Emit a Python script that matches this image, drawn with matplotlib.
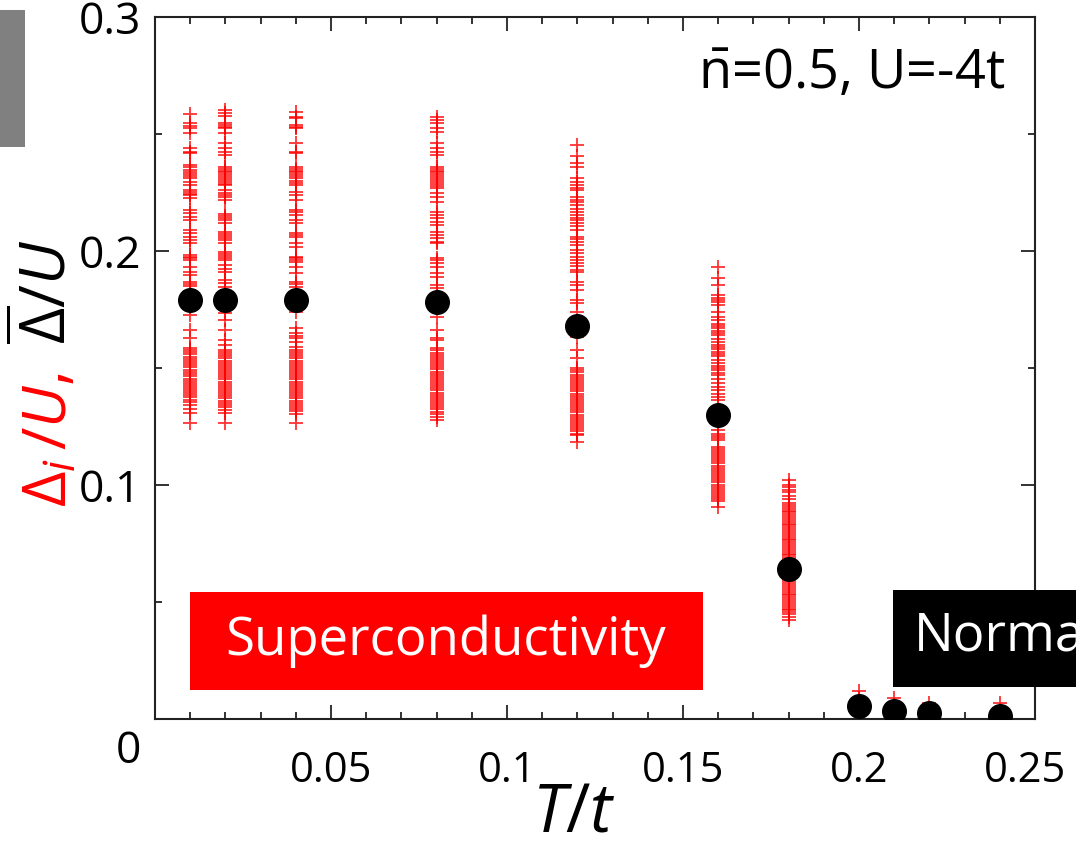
import matplotlib
matplotlib.use('Agg')
import matplotlib.pyplot as plt
import matplotlib.transforms as mtransforms
from matplotlib.patches import Rectangle

plt.rcParams['font.family'] = ['Open Sans', 'DejaVu Sans']
plt.rcParams['mathtext.fontset'] = 'custom'
plt.rcParams['mathtext.rm'] = 'Open Sans'
plt.rcParams['mathtext.it'] = 'Open Sans:italic'

# temperatures T/t and mean gap (black dots)
temps = [0.01, 0.02, 0.04, 0.08, 0.12, 0.16, 0.18, 0.20, 0.21, 0.22, 0.24]
gap_mean = [0.179, 0.179, 0.179, 0.178, 0.168, 0.130, 0.064, 0.0056, 0.0034, 0.0026, 0.0013]

# local gaps Delta_i/U (red crosses), read column by column
gap_001 = [0.2585, 0.2546, 0.2534, 0.2524, 0.2503, 0.2439, 0.2425, 0.2418,
           0.2366, 0.2357, 0.2348, 0.2339, 0.2330, 0.2321, 0.2312, 0.2296, 0.2282,
           0.2261, 0.2253, 0.2245, 0.2239, 0.2225, 0.2175, 0.2161, 0.2147, 0.2132,
           0.2090, 0.2076, 0.2061, 0.2047, 0.2033, 0.1982, 0.1975, 0.1968, 0.1961,
           0.1933, 0.1912, 0.1897, 0.1868, 0.1860, 0.1852, 0.1830, 0.1815, 0.1762,
           0.1726, 0.1662, 0.1627, 0.1584, 0.1576, 0.1567, 0.1558, 0.1549, 0.1540,
           0.1531, 0.1522, 0.1513, 0.1506, 0.1491, 0.1482, 0.1473, 0.1464, 0.1455,
           0.1446, 0.1437, 0.1428, 0.1419, 0.1410, 0.1401, 0.1392, 0.1383, 0.1374,
           0.1365, 0.1356, 0.1340, 0.1325, 0.1306, 0.1264]
gap_002 = [0.2603, 0.2590, 0.2575, 0.2546, 0.2538, 0.2530, 0.2524, 0.2503,
           0.2460, 0.2439, 0.2425, 0.2410, 0.2360, 0.2352, 0.2344, 0.2336, 0.2328,
           0.2320, 0.2312, 0.2304, 0.2296, 0.2288, 0.2280, 0.2260, 0.2250, 0.2240,
           0.2230, 0.2218, 0.2160, 0.2150, 0.2140, 0.2132, 0.2120, 0.2083, 0.2074,
           0.2065, 0.2055, 0.2045, 0.2033, 0.1997, 0.1988, 0.1978, 0.1970, 0.1960,
           0.1940, 0.1925, 0.1910, 0.1876, 0.1865, 0.1848, 0.1820, 0.1733, 0.1705,
           0.1662, 0.1620, 0.1598, 0.1577, 0.1568, 0.1559, 0.1550, 0.1541, 0.1532,
           0.1523, 0.1514, 0.1505, 0.1496, 0.1487, 0.1478, 0.1469, 0.1460, 0.1451,
           0.1442, 0.1433, 0.1424, 0.1415, 0.1406, 0.1397, 0.1388, 0.1379, 0.1370,
           0.1361, 0.1352, 0.1343, 0.1334, 0.1320, 0.1306, 0.1264]
gap_004 = [0.2595, 0.2574, 0.2568, 0.2538, 0.2531, 0.2524, 0.2460, 0.2425,
           0.2418, 0.2360, 0.2352, 0.2344, 0.2336, 0.2328, 0.2320, 0.2312, 0.2300,
           0.2289, 0.2282, 0.2254, 0.2240, 0.2218, 0.2175, 0.2165, 0.2154, 0.2132,
           0.2118, 0.2076, 0.2068, 0.2061, 0.2033, 0.2019, 0.1976, 0.1969, 0.1962,
           0.1954, 0.1933, 0.1905, 0.1869, 0.1860, 0.1848, 0.1820, 0.1741, 0.1669,
           0.1648, 0.1636, 0.1627, 0.1612, 0.1591, 0.1577, 0.1568, 0.1559, 0.1550,
           0.1541, 0.1532, 0.1523, 0.1514, 0.1505, 0.1496, 0.1487, 0.1478, 0.1469,
           0.1460, 0.1451, 0.1442, 0.1433, 0.1424, 0.1415, 0.1406, 0.1397, 0.1388,
           0.1379, 0.1370, 0.1361, 0.1352, 0.1343, 0.1334, 0.1325, 0.1316, 0.1302,
           0.1264]
gap_008 = [0.2574, 0.2561, 0.2546, 0.2524, 0.2510, 0.2460, 0.2439, 0.2425,
           0.2410, 0.2360, 0.2352, 0.2344, 0.2336, 0.2328, 0.2320, 0.2312, 0.2304,
           0.2296, 0.2286, 0.2277, 0.2268, 0.2247, 0.2232, 0.2210, 0.2168, 0.2154,
           0.2140, 0.2125, 0.2110, 0.2083, 0.2068, 0.2055, 0.2040, 0.2033, 0.1970,
           0.1960, 0.1948, 0.1933, 0.1905, 0.1890, 0.1855, 0.1840, 0.1719, 0.1662,
           0.1627, 0.1620, 0.1584, 0.1575, 0.1566, 0.1557, 0.1548, 0.1539, 0.1530,
           0.1521, 0.1512, 0.1503, 0.1494, 0.1485, 0.1476, 0.1467, 0.1458, 0.1449,
           0.1440, 0.1431, 0.1422, 0.1413, 0.1404, 0.1395, 0.1386, 0.1377, 0.1368,
           0.1359, 0.1350, 0.1341, 0.1332, 0.1323, 0.1314, 0.1305, 0.1292, 0.1278]
gap_012 = [0.2453, 0.2406, 0.2375, 0.2360, 0.2310, 0.2295, 0.2282, 0.2270,
           0.2260, 0.2232, 0.2220, 0.2210, 0.2195, 0.2180, 0.2168, 0.2154, 0.2140,
           0.2132, 0.2120, 0.2105, 0.2090, 0.2061, 0.2050, 0.2038, 0.2025, 0.2004,
           0.1990, 0.1976, 0.1962, 0.1950, 0.1935, 0.1920, 0.1912, 0.1869, 0.1855,
           0.1833, 0.1790, 0.1778, 0.1741, 0.1634, 0.1577, 0.1541, 0.1499, 0.1490,
           0.1481, 0.1472, 0.1463, 0.1454, 0.1445, 0.1436, 0.1427, 0.1418, 0.1409,
           0.1400, 0.1391, 0.1382, 0.1373, 0.1364, 0.1355, 0.1346, 0.1337, 0.1328,
           0.1319, 0.1310, 0.1301, 0.1292, 0.1283, 0.1274, 0.1265, 0.1256, 0.1247,
           0.1238, 0.1229, 0.1220, 0.1214, 0.1185]
gap_016 = [0.1933, 0.1883, 0.1855, 0.1810, 0.1800, 0.1790, 0.1780, 0.1770,
           0.1741, 0.1719, 0.1705, 0.1690, 0.1680, 0.1670, 0.1660, 0.1650, 0.1640,
           0.1625, 0.1612, 0.1600, 0.1590, 0.1580, 0.1570, 0.1560, 0.1550, 0.1535,
           0.1520, 0.1510, 0.1500, 0.1490, 0.1480, 0.1470, 0.1455, 0.1435, 0.1420,
           0.1405, 0.1390, 0.1376, 0.1363, 0.1235, 0.1220, 0.1210, 0.1200, 0.1192,
           0.1164, 0.1155, 0.1146, 0.1137, 0.1128, 0.1119, 0.1110, 0.1101, 0.1092,
           0.1083, 0.1074, 0.1065, 0.1056, 0.1047, 0.1038, 0.1029, 0.1020, 0.1011,
           0.1002, 0.0993, 0.0984, 0.0975, 0.0966, 0.0957, 0.0948, 0.0939, 0.0930,
           0.0907]
gap_018 = [0.1021, 0.1000, 0.0990, 0.0980, 0.0970, 0.0955, 0.0940, 0.0923,
           0.0915, 0.0907, 0.0899, 0.0891, 0.0883, 0.0875, 0.0867, 0.0859, 0.0851,
           0.0843, 0.0835, 0.0827, 0.0819, 0.0811, 0.0803, 0.0795, 0.0787, 0.0779,
           0.0771, 0.0763, 0.0755, 0.0747, 0.0739, 0.0731, 0.0723, 0.0715, 0.0707,
           0.0699, 0.0691, 0.0683, 0.0675, 0.0667, 0.0624, 0.0616, 0.0608, 0.0600,
           0.0592, 0.0584, 0.0576, 0.0568, 0.0560, 0.0552, 0.0544, 0.0536, 0.0528,
           0.0520, 0.0512, 0.0504, 0.0496, 0.0488, 0.0480, 0.0472, 0.0464, 0.0456,
           0.0448, 0.0436, 0.0423]
gap_020 = [0.0121, 0.0090, 0.0060, 0.0030]
gap_021 = [0.0090, 0.0060, 0.0030]
gap_022 = [0.0067, 0.0045, 0.0020]
gap_024 = [0.0067, 0.0040, 0.0015]

local_gaps = [gap_001, gap_002, gap_004, gap_008, gap_012, gap_016,
              gap_018, gap_020, gap_021, gap_022, gap_024]

W, H = 1076, 849
fig = plt.figure(figsize=(W / 100, H / 100), dpi=100)
ax = fig.add_axes([155 / W, 130 / H, 880 / W, 702 / H])

for T, vals in zip(temps, local_gaps):
    ax.plot([T] * len(vals), vals, linestyle='none', marker='+', color='red',
            markersize=9.5, markeredgewidth=1.3, alpha=0.8, zorder=2)

ax.plot(temps, gap_mean, linestyle='none', marker='o', color='black',
        markersize=17, zorder=3)

ax.set_xlim(0, 0.25)
ax.set_ylim(0, 0.3)
ax.set_xticks([0.05, 0.1, 0.15, 0.2, 0.25])
ax.set_xticklabels(['0.05', '0.1', '0.15', '0.2', '0.25'])
ax.set_xticks([0.01 * k for k in range(1, 25)], minor=True)
ax.set_yticks([0.1, 0.2, 0.3])
ax.set_yticklabels(['0.1', '0.2', '0.3'])
ax.set_yticks([0.05, 0.15, 0.25], minor=True)
ax.tick_params(which='both', direction='in', top=True, right=True,
               labelsize=32, width=1.3, color='#222222')
ax.tick_params(axis='x', labelsize=30)
ax.tick_params(which='major', length=10)
ax.tick_params(which='minor', length=5)
ax.tick_params(axis='x', pad=22)
ax.tick_params(axis='y', pad=10)
for s in ax.spines.values():
    s.set_linewidth(1.5)
    s.set_color('#222222')

# nudge the last x label left so it stays on the canvas
last = ax.get_xticklabels()[-1]
last.set_transform(last.get_transform() +
                   mtransforms.ScaledTranslation(-10 / 100, 0, fig.dpi_scale_trans))

fig.text(128 / W, 1 - 752 / H, '0', fontsize=32, ha='center', va='center')

fig.text(574 / W, 1 - 814 / H, '$T/t$', fontsize=48, ha='center', va='center')

fig.text(50 / W, 1 - 440 / H, r'$\Delta_i\,/U,$', color='red', fontsize=44,
         rotation=90, ha='center', va='center')
fig.text(48 / W, 1 - 292 / H, r'$\overline{\Delta}/U$', color='black', fontsize=45,
         rotation=90, ha='center', va='center')

fig.text(1005 / W, 1 - 75 / H, r'$\bar{\mathrm{n}}$=0.5, U=-4t',
         fontsize=39, ha='right', va='center')

# phase boxes
fig.patches.append(Rectangle((190 / W, 1 - 690 / H), 513 / W, 98 / H,
                             transform=fig.transFigure, facecolor='red',
                             edgecolor='none', zorder=4))
fig.text(446 / W, 1 - 641 / H, 'Superconductivity', color='white', fontsize=38,
         ha='center', va='center', zorder=5)
fig.patches.append(Rectangle((893 / W, 1 - 687 / H), 200 / W, 97 / H,
                             transform=fig.transFigure, facecolor='black',
                             edgecolor='none', zorder=4))
fig.text(914 / W, 1 - 638 / H, 'Normal', color='white', fontsize=38,
         ha='left', va='center', zorder=5)

fig.patches.append(Rectangle((0, 1 - 147 / H), 25 / W, 137 / H,
                             transform=fig.transFigure, facecolor='#808080',
                             edgecolor='none'))

fig.savefig('out.png', dpi=100)
